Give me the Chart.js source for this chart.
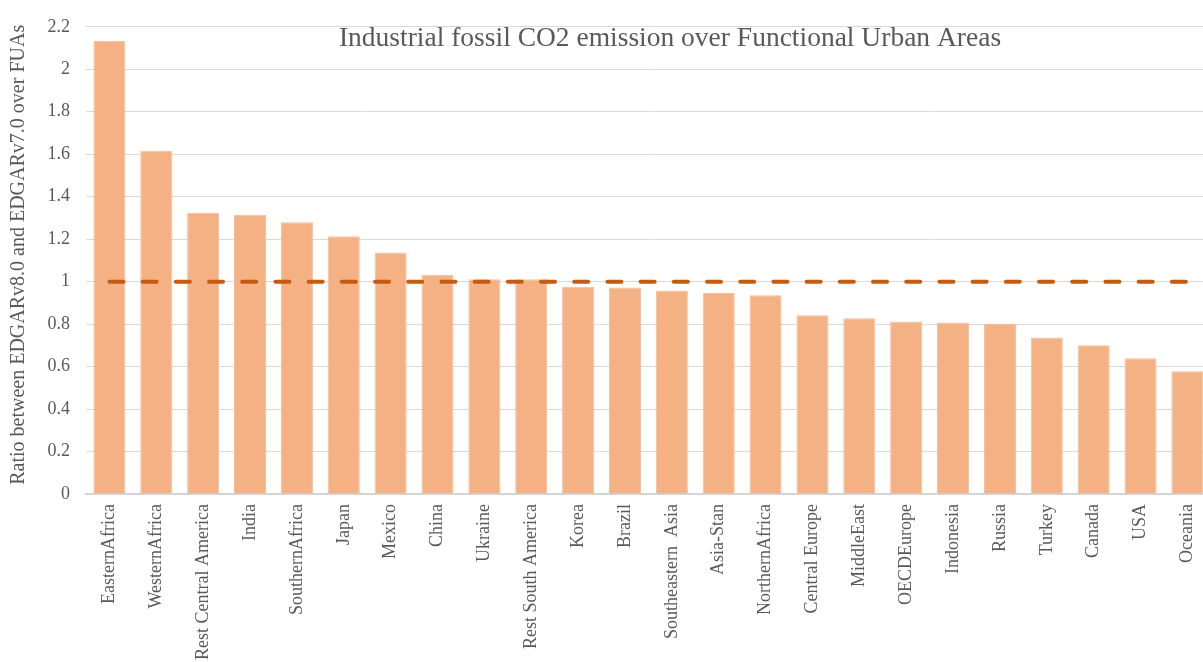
<!DOCTYPE html>
<html>
<head>
<meta charset="utf-8">
<script src="https://cdn.jsdelivr.net/npm/chart.js@4"></script>
<style>
  body { margin: 0; background: #fff; }
  #wrap { width: 1203px; height: 662px; overflow: hidden; }
</style>
</head>
<body>
<div id="wrap"><canvas id="fuaChart" width="1219" height="662"></canvas></div>
<script>
// Data
const regions = ['EasternAfrica', 'WesternAfrica', 'Rest Central America', 'India', 'SouthernAfrica',
    'Japan', 'Mexico', 'China', 'Ukraine', 'Rest South America', 'Korea', 'Brazil',
    'Southeastern  Asia', 'Asia-Stan', 'NorthernAfrica', 'Central Europe', 'MiddleEast',
    'OECDEurope', 'Indonesia', 'Russia', 'Turkey', 'Canada', 'USA', 'Oceania'];
const ratios = [2.134, 1.616, 1.324, 1.315, 1.280, 1.214, 1.137, 1.033, 1.011, 1.011, 0.976, 0.972,
    0.958, 0.946, 0.936, 0.842, 0.828, 0.812, 0.807, 0.802, 0.737, 0.700, 0.639, 0.578];
const parityLine = [1, 1, 1, 1, 1, 1, 1, 1, 1, 1, 1, 1, 1, 1, 1, 1, 1, 1, 1, 1, 1, 1, 1, 1];
const chartTitle = 'Industrial fossil CO2 emission over Functional Urban Areas';
const yAxisTitle = 'Ratio between EDGARv8.0 and EDGARv7.0 over FUAs';

const serif = '"Liberation Serif", "Times New Roman", serif';
const textGrey = '#595959';

// chart title sits inside the plot area and the axis title is a bit off-centre,
// so both are drawn here
const extraText = {
    id: 'extraText',
    afterDraw(chart) {
        const { ctx, chartArea } = chart;
        ctx.save();
        ctx.fillStyle = textGrey;
        ctx.font = '27.5px ' + serif;
        ctx.textAlign = 'center';
        ctx.textBaseline = 'alphabetic';
        ctx.fillText(chartTitle, chartArea.left + 584, 46);

        ctx.font = '20px ' + serif;
        ctx.textBaseline = 'middle';
        ctx.translate(19, chartArea.top + 228);
        ctx.rotate(-Math.PI / 2);
        ctx.fillText(yAxisTitle, 0, 0);
        ctx.restore();
    }
};

new Chart(document.getElementById('fuaChart'), {
    data: {
        labels: regions,
        datasets: [{
            type: 'line',
            data: parityLine,
            borderColor: '#C55A11',
            borderWidth: 4,
            borderDash: [14, 19.2],
            borderCapStyle: 'round',
            pointRadius: 0,
            fill: false,
            order: 0
        }, {
            type: 'bar',
            data: ratios,
            backgroundColor: '#F4B183',
            borderColor: '#F6BE98',
            borderWidth: 1,
            barPercentage: 0.684,
            categoryPercentage: 1,
            order: 1
        }]
    },
    options: {
        // canvas is wider than the page, the original is cropped at the right
        responsive: false,
        animation: false,
        layout: { padding: { top: 14, right: 0, left: 0, bottom: 0 } },
        plugins: {
            legend: { display: false },
            tooltip: { enabled: false }
        },
        scales: {
            x: {
                grid: { display: false, drawTicks: false },
                border: { color: '#d4d4d4', width: 2 },
                ticks: {
                    autoSkip: false,
                    minRotation: 90,
                    maxRotation: 90,
                    padding: 10,
                    color: textGrey,
                    font: { family: serif, size: 18 }
                },
                afterFit(scale) { scale.height = 168; }
            },
            y: {
                min: 0,
                max: 2.2,
                grid: { color: '#d9d9d9', drawTicks: false },
                border: { display: false },
                ticks: {
                    stepSize: 0.2,
                    padding: 16,
                    color: textGrey,
                    font: { family: serif, size: 18 },
                    format: { minimumFractionDigits: 0, maximumFractionDigits: 1 }
                },
                afterFit(scale) { scale.width = 86; }
            }
        }
    },
    plugins: [extraText]
});
</script>
</body>
</html>
